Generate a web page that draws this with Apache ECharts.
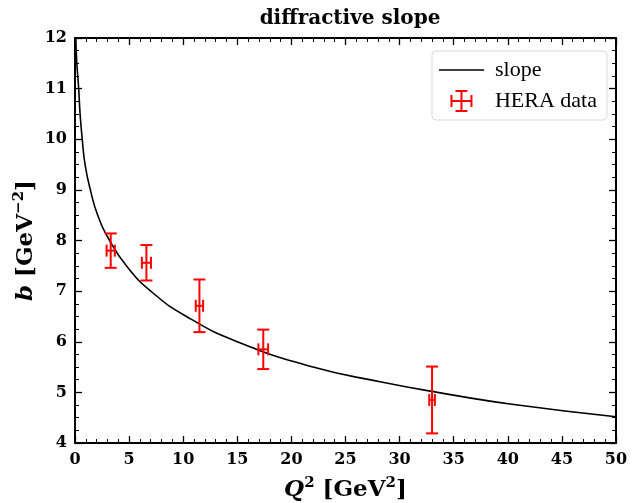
<!DOCTYPE html>
<html>
<head>
<meta charset="utf-8">
<script src="https://cdn.jsdelivr.net/npm/echarts@6/dist/echarts.min.js"></script>
<style>
html,body{margin:0;padding:0;background:#fff;}
#c{width:632px;height:503px;}
</style>
</head>
<body>
<div id="c"></div>
<script>
// Model curve
const curveQ2 = [0.07, 0.17, 0.34, 0.47, 0.67, 0.93, 1.42, 2.1, 3.2, 4.75, 7.0, 10.3, 15.0, 22.0, 28.2, 33.5, 40.2, 50.0];
const curveB  = [12.0, 11.5, 11.0, 10.5, 10.0, 9.5, 9.0, 8.5, 8.0, 7.5, 7.0, 6.5, 6.0, 5.5, 5.21, 5.0, 4.77, 4.52];
// HERA data points
const dataQ2   = [3.3, 6.6, 11.5, 17.4, 33.0];
const dataB    = [7.80, 7.56, 6.71, 5.85, 4.85];
const dataQ2err = [0.38, 0.42, 0.34, 0.45, 0.26];
const dataBerr  = [0.34, 0.35, 0.52, 0.39, 0.66];
// Axis ticks
const xTicks = [0, 5, 10, 15, 20, 25, 30, 35, 40, 45, 50];
const yTicks = [4, 5, 6, 7, 8, 9, 10, 11, 12];

const chart = echarts.init(document.getElementById('c'), null, {renderer: 'canvas'});
const serif = 'DejaVu Serif';
const lineCol = '#000';
const red = '#ff0000';

const axLine = {show: true, onZero: false, lineStyle: {color: lineCol, width: 2}};
const axTick = {show: true, inside: true, length: 7, lineStyle: {color: lineCol, width: 1.3}};
const minorX = {show: true, splitNumber: 5, length: 4, lineStyle: {color: lineCol, width: 1}};
const minorY = {show: true, splitNumber: 4, length: 4, lineStyle: {color: lineCol, width: 1}};

const nameRich = {
  n: {fontFamily: serif, fontWeight: 'bold', fontSize: 23, color: '#000', lineHeight: 29},
  i: {fontFamily: serif, fontStyle: 'italic', fontWeight: 'bold', fontSize: 23, color: '#000', lineHeight: 29},
  s: {fontFamily: serif, fontWeight: 'bold', fontSize: 15, color: '#000', verticalAlign: 'top', lineHeight: 29}
};

const errIcon = 'path://M10,0h2v22h-2z M5,0h12v2h-12z M5,20h12v2h-12z M0,10h22v2h-22z M0,5h2v12h-2z M20,5h2v12h-2z';
const lineIcon = 'path://M0,0h45v1.6h-45z';

chart.setOption({
  animation: false,
  backgroundColor: '#fff',
  title: {
    text: 'diffractive slope',
    left: 345, top: 4, textAlign: 'center',
    textStyle: {fontFamily: serif, fontWeight: 'bold', fontSize: 20, color: '#000'}
  },
  grid: {left: 75, right: 16, top: 38, bottom: 60, containLabel: false, outerBoundsMode: 'none'},
  legend: {
    orient: 'vertical',
    right: 25, top: 51,
    padding: [8, 10, 8, 7],
    itemGap: 9,
    itemWidth: 45, itemHeight: 22,
    backgroundColor: '#fff',
    borderColor: '#d9d9d9', borderWidth: 1, borderRadius: 4,
    textStyle: {fontFamily: 'Liberation Serif', fontSize: 22, color: '#000', padding: [0, 0, 0, 6]},
    data: [
      {name: 'slope', icon: lineIcon, itemStyle: {color: '#000'}},
      {name: 'HERA data', icon: errIcon}
    ]
  },
  xAxis: [
    {
      type: 'value', min: 0, max: 50, interval: 5, position: 'bottom',
      axisLine: axLine, axisTick: axTick, minorTick: minorX, splitLine: {show: false},
      axisLabel: {show: true, color: '#000', fontFamily: serif, fontWeight: 'bold', fontSize: 16, margin: 9,
        formatter: v => xTicks.indexOf(v) >= 0 ? String(v) : ''},
      name: '{i|Q}{s|2} {n|[GeV}{s|2}{n|]}',
      nameLocation: 'middle', nameGap: 33,
      nameTextStyle: {fontFamily: serif, fontWeight: 'bold', fontSize: 23, color: '#000', rich: nameRich}
    },
    {
      type: 'value', min: 0, max: 50, interval: 5, position: 'top',
      axisLine: axLine, axisTick: axTick, minorTick: minorX, splitLine: {show: false},
      axisLabel: {show: false}
    }
  ],
  yAxis: [
    {
      type: 'value', min: 4, max: 12, interval: 1, position: 'left',
      axisLine: axLine, axisTick: axTick, minorTick: minorY, splitLine: {show: false},
      axisLabel: {show: true, color: '#000', fontFamily: serif, fontWeight: 'bold', fontSize: 16, margin: 8,
        formatter: v => yTicks.indexOf(v) >= 0 ? String(v) : ''},
      name: '{i|b} {n|[GeV}{s|−2}{n|]}',
      nameLocation: 'middle', nameGap: 34, nameRotate: 90, nameMoveOverlap: false,
      nameTextStyle: {fontFamily: serif, fontWeight: 'bold', fontSize: 23, color: '#000', rich: nameRich}
    },
    {
      type: 'value', min: 4, max: 12, interval: 1, position: 'right',
      axisLine: axLine, axisTick: axTick, minorTick: minorY, splitLine: {show: false},
      axisLabel: {show: false}
    }
  ],
  series: [
    {
      name: 'slope', type: 'line',
      xAxisIndex: 0, yAxisIndex: 0,
      data: curveQ2.map((q, i) => [q, curveB[i]]),
      showSymbol: false, symbol: 'none',
      smooth: 0.5,
      lineStyle: {color: '#000', width: 1.6},
      itemStyle: {color: '#000'},
      clip: true, z: 2
    },
    {
      name: 'HERA data', type: 'custom',
      xAxisIndex: 0, yAxisIndex: 0,
      itemStyle: {color: red},
      data: dataQ2.map((q, i) => [q, dataB[i], dataQ2err[i], dataBerr[i]]),
      encode: {x: 0, y: 1},
      z: 3,
      renderItem: function (params, api) {
        const x = api.value(0), y = api.value(1), xe = api.value(2), ye = api.value(3);
        const c = api.coord([x, y]);
        const t = api.coord([x, y + ye]);
        const b = api.coord([x, y - ye]);
        const l = api.coord([x - xe, y]);
        const r = api.coord([x + xe, y]);
        const cap = 6;
        const st = {stroke: red, lineWidth: 2};
        const mk = (x1, y1, x2, y2) => ({type: 'line', shape: {x1, y1, x2, y2}, style: st});
        return {
          type: 'group',
          children: [
            mk(c[0], t[1], c[0], b[1]),
            mk(c[0] - cap, t[1], c[0] + cap, t[1]),
            mk(c[0] - cap, b[1], c[0] + cap, b[1]),
            mk(l[0], c[1], r[0], c[1]),
            mk(l[0], c[1] - cap, l[0], c[1] + cap),
            mk(r[0], c[1] - cap, r[0], c[1] + cap)
          ]
        };
      }
    }
  ]
});
</script>
</body>
</html>
